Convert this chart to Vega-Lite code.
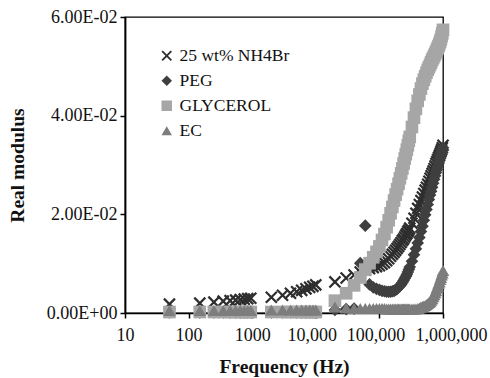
{
"$schema": "https://vega.github.io/schema/vega-lite/v6.json",
"width": 318, "height": 296,
"autosize": "none",
"padding": {"left": 125, "top": 17, "right": 47, "bottom": 65},
"background": "white",
"config": {"view": {"stroke": "black", "strokeWidth": 1.3}, "font": "Liberation Serif"},
"data": {"values": [
{"freq":50,"series":"25 wt% NH4Br","modulus":0.0018},{"freq":150,"series":"25 wt% NH4Br","modulus":0.0020},{"freq":250,"series":"25 wt% NH4Br","modulus":0.0022},{"freq":350,"series":"25 wt% NH4Br","modulus":0.0024},{"freq":450,"series":"25 wt% NH4Br","modulus":0.0025},{"freq":550,"series":"25 wt% NH4Br","modulus":0.0026},{"freq":650,"series":"25 wt% NH4Br","modulus":0.0027},{"freq":750,"series":"25 wt% NH4Br","modulus":0.0028},{"freq":850,"series":"25 wt% NH4Br","modulus":0.0029},{"freq":950,"series":"25 wt% NH4Br","modulus":0.0030},
{"freq":2000,"series":"25 wt% NH4Br","modulus":0.0032},{"freq":3000,"series":"25 wt% NH4Br","modulus":0.0036},{"freq":4000,"series":"25 wt% NH4Br","modulus":0.0040},{"freq":5000,"series":"25 wt% NH4Br","modulus":0.0043},{"freq":6000,"series":"25 wt% NH4Br","modulus":0.0046},{"freq":7000,"series":"25 wt% NH4Br","modulus":0.0049},{"freq":8000,"series":"25 wt% NH4Br","modulus":0.0052},{"freq":9000,"series":"25 wt% NH4Br","modulus":0.0054},{"freq":10000,"series":"25 wt% NH4Br","modulus":0.0057},
{"freq":20000,"series":"25 wt% NH4Br","modulus":0.0063},{"freq":30000,"series":"25 wt% NH4Br","modulus":0.0071},{"freq":40000,"series":"25 wt% NH4Br","modulus":0.0077},{"freq":50000,"series":"25 wt% NH4Br","modulus":0.0083},{"freq":60000,"series":"25 wt% NH4Br","modulus":0.0087},{"freq":70000,"series":"25 wt% NH4Br","modulus":0.0090},{"freq":80000,"series":"25 wt% NH4Br","modulus":0.0092},{"freq":90000,"series":"25 wt% NH4Br","modulus":0.0094},{"freq":100000,"series":"25 wt% NH4Br","modulus":0.0096},{"freq":110000,"series":"25 wt% NH4Br","modulus":0.0099},{"freq":120000,"series":"25 wt% NH4Br","modulus":0.0102},{"freq":130000,"series":"25 wt% NH4Br","modulus":0.0106},{"freq":140000,"series":"25 wt% NH4Br","modulus":0.0110},{"freq":150000,"series":"25 wt% NH4Br","modulus":0.0115},{"freq":160000,"series":"25 wt% NH4Br","modulus":0.0119},{"freq":170000,"series":"25 wt% NH4Br","modulus":0.0123},{"freq":180000,"series":"25 wt% NH4Br","modulus":0.0127},{"freq":190000,"series":"25 wt% NH4Br","modulus":0.0131},{"freq":200000,"series":"25 wt% NH4Br","modulus":0.0135},{"freq":210000,"series":"25 wt% NH4Br","modulus":0.0139},{"freq":220000,"series":"25 wt% NH4Br","modulus":0.0143},{"freq":230000,"series":"25 wt% NH4Br","modulus":0.0147},{"freq":240000,"series":"25 wt% NH4Br","modulus":0.0150},{"freq":250000,"series":"25 wt% NH4Br","modulus":0.0154},{"freq":260000,"series":"25 wt% NH4Br","modulus":0.0158},{"freq":270000,"series":"25 wt% NH4Br","modulus":0.0161},{"freq":280000,"series":"25 wt% NH4Br","modulus":0.0165},{"freq":290000,"series":"25 wt% NH4Br","modulus":0.0168},{"freq":300000,"series":"25 wt% NH4Br","modulus":0.0172},
{"freq":325000,"series":"25 wt% NH4Br","modulus":0.0182},{"freq":350000,"series":"25 wt% NH4Br","modulus":0.0192},{"freq":375000,"series":"25 wt% NH4Br","modulus":0.0202},{"freq":400000,"series":"25 wt% NH4Br","modulus":0.0212},{"freq":425000,"series":"25 wt% NH4Br","modulus":0.0220},{"freq":450000,"series":"25 wt% NH4Br","modulus":0.0228},{"freq":475000,"series":"25 wt% NH4Br","modulus":0.0235},{"freq":500000,"series":"25 wt% NH4Br","modulus":0.0242},{"freq":525000,"series":"25 wt% NH4Br","modulus":0.0249},{"freq":550000,"series":"25 wt% NH4Br","modulus":0.0255},{"freq":575000,"series":"25 wt% NH4Br","modulus":0.0261},{"freq":600000,"series":"25 wt% NH4Br","modulus":0.0267},{"freq":625000,"series":"25 wt% NH4Br","modulus":0.0273},{"freq":650000,"series":"25 wt% NH4Br","modulus":0.0278},{"freq":675000,"series":"25 wt% NH4Br","modulus":0.0283},{"freq":700000,"series":"25 wt% NH4Br","modulus":0.0288},{"freq":725000,"series":"25 wt% NH4Br","modulus":0.0293},{"freq":750000,"series":"25 wt% NH4Br","modulus":0.0298},{"freq":775000,"series":"25 wt% NH4Br","modulus":0.0303},{"freq":800000,"series":"25 wt% NH4Br","modulus":0.0307},{"freq":825000,"series":"25 wt% NH4Br","modulus":0.0311},{"freq":850000,"series":"25 wt% NH4Br","modulus":0.0315},{"freq":875000,"series":"25 wt% NH4Br","modulus":0.0319},{"freq":900000,"series":"25 wt% NH4Br","modulus":0.0323},{"freq":925000,"series":"25 wt% NH4Br","modulus":0.0327},{"freq":950000,"series":"25 wt% NH4Br","modulus":0.0331},{"freq":975000,"series":"25 wt% NH4Br","modulus":0.0335},{"freq":1000000,"series":"25 wt% NH4Br","modulus":0.0340},

{"freq":50,"series":"PEG","modulus":0.0001},{"freq":150,"series":"PEG","modulus":0.0001},{"freq":250,"series":"PEG","modulus":0.0001},{"freq":350,"series":"PEG","modulus":0.0001},{"freq":450,"series":"PEG","modulus":0.0001},{"freq":550,"series":"PEG","modulus":0.0001},{"freq":650,"series":"PEG","modulus":0.0001},{"freq":750,"series":"PEG","modulus":0.0001},{"freq":850,"series":"PEG","modulus":0.0001},{"freq":950,"series":"PEG","modulus":0.0001},
{"freq":2000,"series":"PEG","modulus":0.0001},{"freq":3000,"series":"PEG","modulus":0.0001},{"freq":4000,"series":"PEG","modulus":0.0001},{"freq":5000,"series":"PEG","modulus":0.0001},{"freq":6000,"series":"PEG","modulus":0.0001},{"freq":7000,"series":"PEG","modulus":0.0001},{"freq":8000,"series":"PEG","modulus":0.0001},{"freq":9000,"series":"PEG","modulus":0.0001},{"freq":10000,"series":"PEG","modulus":0.0001},
{"freq":20000,"series":"PEG","modulus":0.0006},{"freq":30000,"series":"PEG","modulus":0.0008},{"freq":40000,"series":"PEG","modulus":0.0009},{"freq":50000,"series":"PEG","modulus":0.0101},{"freq":60000,"series":"PEG","modulus":0.0177},{"freq":70000,"series":"PEG","modulus":0.0058},{"freq":80000,"series":"PEG","modulus":0.0052},{"freq":90000,"series":"PEG","modulus":0.0049},{"freq":100000,"series":"PEG","modulus":0.0047},{"freq":110000,"series":"PEG","modulus":0.0045},{"freq":120000,"series":"PEG","modulus":0.0044},{"freq":130000,"series":"PEG","modulus":0.0043},{"freq":140000,"series":"PEG","modulus":0.0043},{"freq":150000,"series":"PEG","modulus":0.0043},{"freq":160000,"series":"PEG","modulus":0.0044},{"freq":170000,"series":"PEG","modulus":0.0045},{"freq":180000,"series":"PEG","modulus":0.0047},{"freq":190000,"series":"PEG","modulus":0.0049},{"freq":200000,"series":"PEG","modulus":0.0052},{"freq":210000,"series":"PEG","modulus":0.0055},{"freq":220000,"series":"PEG","modulus":0.0058},{"freq":230000,"series":"PEG","modulus":0.0062},{"freq":240000,"series":"PEG","modulus":0.0066},{"freq":250000,"series":"PEG","modulus":0.0070},{"freq":260000,"series":"PEG","modulus":0.0074},{"freq":270000,"series":"PEG","modulus":0.0078},{"freq":280000,"series":"PEG","modulus":0.0083},{"freq":290000,"series":"PEG","modulus":0.0088},{"freq":300000,"series":"PEG","modulus":0.0093},
{"freq":325000,"series":"PEG","modulus":0.0105},{"freq":350000,"series":"PEG","modulus":0.0118},{"freq":375000,"series":"PEG","modulus":0.0130},{"freq":400000,"series":"PEG","modulus":0.0142},{"freq":425000,"series":"PEG","modulus":0.0153},{"freq":450000,"series":"PEG","modulus":0.0165},{"freq":475000,"series":"PEG","modulus":0.0176},{"freq":500000,"series":"PEG","modulus":0.0188},{"freq":525000,"series":"PEG","modulus":0.0199},{"freq":550000,"series":"PEG","modulus":0.0210},{"freq":575000,"series":"PEG","modulus":0.0220},{"freq":600000,"series":"PEG","modulus":0.0230},{"freq":625000,"series":"PEG","modulus":0.0239},{"freq":650000,"series":"PEG","modulus":0.0247},{"freq":675000,"series":"PEG","modulus":0.0255},{"freq":700000,"series":"PEG","modulus":0.0263},{"freq":725000,"series":"PEG","modulus":0.0271},{"freq":750000,"series":"PEG","modulus":0.0278},{"freq":775000,"series":"PEG","modulus":0.0285},{"freq":800000,"series":"PEG","modulus":0.0291},{"freq":825000,"series":"PEG","modulus":0.0297},{"freq":850000,"series":"PEG","modulus":0.0303},{"freq":875000,"series":"PEG","modulus":0.0309},{"freq":900000,"series":"PEG","modulus":0.0314},{"freq":925000,"series":"PEG","modulus":0.0320},{"freq":950000,"series":"PEG","modulus":0.0325},{"freq":975000,"series":"PEG","modulus":0.0330},{"freq":1000000,"series":"PEG","modulus":0.0335},

{"freq":50,"series":"GLYCEROL","modulus":0.0002},{"freq":150,"series":"GLYCEROL","modulus":0.0002},{"freq":250,"series":"GLYCEROL","modulus":0.0002},{"freq":350,"series":"GLYCEROL","modulus":0.0002},{"freq":450,"series":"GLYCEROL","modulus":0.0002},{"freq":550,"series":"GLYCEROL","modulus":0.0002},{"freq":650,"series":"GLYCEROL","modulus":0.0002},{"freq":750,"series":"GLYCEROL","modulus":0.0002},{"freq":850,"series":"GLYCEROL","modulus":0.0002},{"freq":950,"series":"GLYCEROL","modulus":0.0002},
{"freq":2000,"series":"GLYCEROL","modulus":0.0002},{"freq":3000,"series":"GLYCEROL","modulus":0.0002},{"freq":4000,"series":"GLYCEROL","modulus":0.0002},{"freq":5000,"series":"GLYCEROL","modulus":0.0002},{"freq":6000,"series":"GLYCEROL","modulus":0.0002},{"freq":7000,"series":"GLYCEROL","modulus":0.0002},{"freq":8000,"series":"GLYCEROL","modulus":0.0002},{"freq":9000,"series":"GLYCEROL","modulus":0.0002},{"freq":10000,"series":"GLYCEROL","modulus":0.0002},
{"freq":20000,"series":"GLYCEROL","modulus":0.0025},{"freq":30000,"series":"GLYCEROL","modulus":0.0040},{"freq":40000,"series":"GLYCEROL","modulus":0.0056},{"freq":50000,"series":"GLYCEROL","modulus":0.0072},{"freq":60000,"series":"GLYCEROL","modulus":0.0088},{"freq":70000,"series":"GLYCEROL","modulus":0.0101},{"freq":80000,"series":"GLYCEROL","modulus":0.0113},{"freq":90000,"series":"GLYCEROL","modulus":0.0124},{"freq":100000,"series":"GLYCEROL","modulus":0.0135},{"freq":110000,"series":"GLYCEROL","modulus":0.0148},{"freq":120000,"series":"GLYCEROL","modulus":0.0160},{"freq":130000,"series":"GLYCEROL","modulus":0.0174},{"freq":140000,"series":"GLYCEROL","modulus":0.0188},{"freq":150000,"series":"GLYCEROL","modulus":0.0202},{"freq":160000,"series":"GLYCEROL","modulus":0.0215},{"freq":170000,"series":"GLYCEROL","modulus":0.0228},{"freq":180000,"series":"GLYCEROL","modulus":0.0240},{"freq":190000,"series":"GLYCEROL","modulus":0.0251},{"freq":200000,"series":"GLYCEROL","modulus":0.0262},{"freq":210000,"series":"GLYCEROL","modulus":0.0273},{"freq":220000,"series":"GLYCEROL","modulus":0.0283},{"freq":230000,"series":"GLYCEROL","modulus":0.0293},{"freq":240000,"series":"GLYCEROL","modulus":0.0303},{"freq":250000,"series":"GLYCEROL","modulus":0.0313},{"freq":260000,"series":"GLYCEROL","modulus":0.0322},{"freq":270000,"series":"GLYCEROL","modulus":0.0331},{"freq":280000,"series":"GLYCEROL","modulus":0.0340},{"freq":290000,"series":"GLYCEROL","modulus":0.0349},{"freq":300000,"series":"GLYCEROL","modulus":0.0357},
{"freq":325000,"series":"GLYCEROL","modulus":0.0377},{"freq":350000,"series":"GLYCEROL","modulus":0.0396},{"freq":375000,"series":"GLYCEROL","modulus":0.0414},{"freq":400000,"series":"GLYCEROL","modulus":0.0430},{"freq":425000,"series":"GLYCEROL","modulus":0.0443},{"freq":450000,"series":"GLYCEROL","modulus":0.0455},{"freq":475000,"series":"GLYCEROL","modulus":0.0465},{"freq":500000,"series":"GLYCEROL","modulus":0.0473},{"freq":525000,"series":"GLYCEROL","modulus":0.0480},{"freq":550000,"series":"GLYCEROL","modulus":0.0487},{"freq":575000,"series":"GLYCEROL","modulus":0.0493},{"freq":600000,"series":"GLYCEROL","modulus":0.0498},{"freq":625000,"series":"GLYCEROL","modulus":0.0503},{"freq":650000,"series":"GLYCEROL","modulus":0.0508},{"freq":675000,"series":"GLYCEROL","modulus":0.0513},{"freq":700000,"series":"GLYCEROL","modulus":0.0517},{"freq":725000,"series":"GLYCEROL","modulus":0.0521},{"freq":750000,"series":"GLYCEROL","modulus":0.0525},{"freq":775000,"series":"GLYCEROL","modulus":0.0529},{"freq":800000,"series":"GLYCEROL","modulus":0.0533},{"freq":825000,"series":"GLYCEROL","modulus":0.0537},{"freq":850000,"series":"GLYCEROL","modulus":0.0541},{"freq":875000,"series":"GLYCEROL","modulus":0.0545},{"freq":900000,"series":"GLYCEROL","modulus":0.0550},{"freq":925000,"series":"GLYCEROL","modulus":0.0555},{"freq":950000,"series":"GLYCEROL","modulus":0.0561},{"freq":975000,"series":"GLYCEROL","modulus":0.0567},{"freq":1000000,"series":"GLYCEROL","modulus":0.0574},

{"freq":50,"series":"EC","modulus":0.0005},{"freq":150,"series":"EC","modulus":0.0005},{"freq":250,"series":"EC","modulus":0.0005},{"freq":350,"series":"EC","modulus":0.0005},{"freq":450,"series":"EC","modulus":0.0005},{"freq":550,"series":"EC","modulus":0.0005},{"freq":650,"series":"EC","modulus":0.0005},{"freq":750,"series":"EC","modulus":0.0005},{"freq":850,"series":"EC","modulus":0.0005},{"freq":950,"series":"EC","modulus":0.0005},
{"freq":2000,"series":"EC","modulus":0.0006},{"freq":3000,"series":"EC","modulus":0.0006},{"freq":4000,"series":"EC","modulus":0.0006},{"freq":5000,"series":"EC","modulus":0.0006},{"freq":6000,"series":"EC","modulus":0.0006},{"freq":7000,"series":"EC","modulus":0.0006},{"freq":8000,"series":"EC","modulus":0.0006},{"freq":9000,"series":"EC","modulus":0.0006},{"freq":10000,"series":"EC","modulus":0.0006},
{"freq":20000,"series":"EC","modulus":0.0012},{"freq":30000,"series":"EC","modulus":0.0010},{"freq":40000,"series":"EC","modulus":0.0009},{"freq":50000,"series":"EC","modulus":0.0009},{"freq":60000,"series":"EC","modulus":0.0009},{"freq":70000,"series":"EC","modulus":0.0009},{"freq":80000,"series":"EC","modulus":0.0009},{"freq":90000,"series":"EC","modulus":0.0009},{"freq":100000,"series":"EC","modulus":0.0009},{"freq":110000,"series":"EC","modulus":0.0009},{"freq":120000,"series":"EC","modulus":0.0009},{"freq":130000,"series":"EC","modulus":0.0008},{"freq":140000,"series":"EC","modulus":0.0008},{"freq":150000,"series":"EC","modulus":0.0008},{"freq":160000,"series":"EC","modulus":0.0008},{"freq":170000,"series":"EC","modulus":0.0008},{"freq":180000,"series":"EC","modulus":0.0008},{"freq":190000,"series":"EC","modulus":0.0008},{"freq":200000,"series":"EC","modulus":0.0008},{"freq":210000,"series":"EC","modulus":0.0008},{"freq":220000,"series":"EC","modulus":0.0008},{"freq":230000,"series":"EC","modulus":0.0008},{"freq":240000,"series":"EC","modulus":0.0008},{"freq":250000,"series":"EC","modulus":0.0008},{"freq":260000,"series":"EC","modulus":0.0008},{"freq":270000,"series":"EC","modulus":0.0008},{"freq":280000,"series":"EC","modulus":0.0008},{"freq":290000,"series":"EC","modulus":0.0008},{"freq":300000,"series":"EC","modulus":0.0008},
{"freq":325000,"series":"EC","modulus":0.0008},{"freq":350000,"series":"EC","modulus":0.0008},{"freq":375000,"series":"EC","modulus":0.0008},{"freq":400000,"series":"EC","modulus":0.0009},{"freq":425000,"series":"EC","modulus":0.0010},{"freq":450000,"series":"EC","modulus":0.0012},{"freq":475000,"series":"EC","modulus":0.0013},{"freq":500000,"series":"EC","modulus":0.0014},{"freq":525000,"series":"EC","modulus":0.0015},{"freq":550000,"series":"EC","modulus":0.0017},{"freq":575000,"series":"EC","modulus":0.0019},{"freq":600000,"series":"EC","modulus":0.0021},{"freq":625000,"series":"EC","modulus":0.0023},{"freq":650000,"series":"EC","modulus":0.0026},{"freq":675000,"series":"EC","modulus":0.0029},{"freq":700000,"series":"EC","modulus":0.0033},{"freq":725000,"series":"EC","modulus":0.0037},{"freq":750000,"series":"EC","modulus":0.0041},{"freq":775000,"series":"EC","modulus":0.0045},{"freq":800000,"series":"EC","modulus":0.0050},{"freq":825000,"series":"EC","modulus":0.0054},{"freq":850000,"series":"EC","modulus":0.0059},{"freq":875000,"series":"EC","modulus":0.0063},{"freq":900000,"series":"EC","modulus":0.0068},{"freq":925000,"series":"EC","modulus":0.0072},{"freq":950000,"series":"EC","modulus":0.0077},{"freq":975000,"series":"EC","modulus":0.0081},{"freq":1000000,"series":"EC","modulus":0.0086}
]},
"mark": {"type": "point", "filled": true, "opacity": 1, "size": 160},
"encoding": {
  "x": {"field": "freq", "type": "quantitative",
    "scale": {"type": "log", "domain": [10, 1000000], "nice": false},
    "axis": {"values": [10, 100, 1000, 10000, 100000, 1000000],
      "labelExpr": "datum.value >= 10000 ? format(datum.value, ',') : format(datum.value, 'd')",
      "labelOffset": {"condition": [{"test": "datum.value >= 1000000", "value": 8}, {"test": "datum.value >= 10000", "value": -4}], "value": 0},
      "title": "Frequency (Hz)", "grid": false,
      "domainColor": "black", "domainWidth": 1.6, "tickColor": "black", "tickWidth": 1.5, "tickSize": 5,
      "labelFont": "Liberation Serif", "labelFontSize": 18, "labelColor": "#111", "labelPadding": 8,
      "labelFlush": false, "labelOverlap": false, "labelBound": false,
      "titleFont": "Liberation Serif", "titleFontSize": 19.5, "titleFontWeight": "bold", "titleColor": "#111", "titlePadding": 13}},
  "y": {"field": "modulus", "type": "quantitative",
    "scale": {"domain": [0, 0.06], "nice": false},
    "axis": {"values": [0, 0.02, 0.04, 0.06],
      "labelExpr": "datum.value == 0 ? '0.00E+00' : datum.value < 0.03 ? '2.00E-02' : datum.value < 0.05 ? '4.00E-02' : '6.00E-02'",
      "title": "Real modulus", "grid": false,
      "domainColor": "black", "domainWidth": 1.8, "tickColor": "black", "tickWidth": 1.5, "tickSize": 5,
      "labelFont": "Liberation Serif", "labelFontSize": 18, "labelColor": "#111", "labelPadding": 3,
      "titleFont": "Liberation Serif", "titleFontSize": 19.5, "titleFontWeight": "bold", "titleColor": "#111", "titlePadding": 19}},
  "color": {"field": "series", "type": "nominal",
    "scale": {"domain": ["25 wt% NH4Br", "PEG", "GLYCEROL", "EC"], "range": ["#2e2e2e", "#3f3f3f", "#a6a6a6", "#7d7d7d"]},
    "legend": {"title": null, "orient": "none", "legendX": 33, "legendY": 30,
      "labelFont": "Liberation Serif", "labelFontSize": 17.5, "labelColor": "#111",
      "symbolSize": 110, "rowPadding": 6, "labelOffset": 4}},
  "shape": {"field": "series", "type": "nominal",
    "scale": {"domain": ["25 wt% NH4Br", "PEG", "GLYCEROL", "EC"],
      "range": ["M-1,-0.75L-0.75,-1L1,0.75L0.75,1Z M0.75,-1L1,-0.75L-0.75,1L-1,0.75Z", "diamond", "square", "triangle-up"]}}
}
}
